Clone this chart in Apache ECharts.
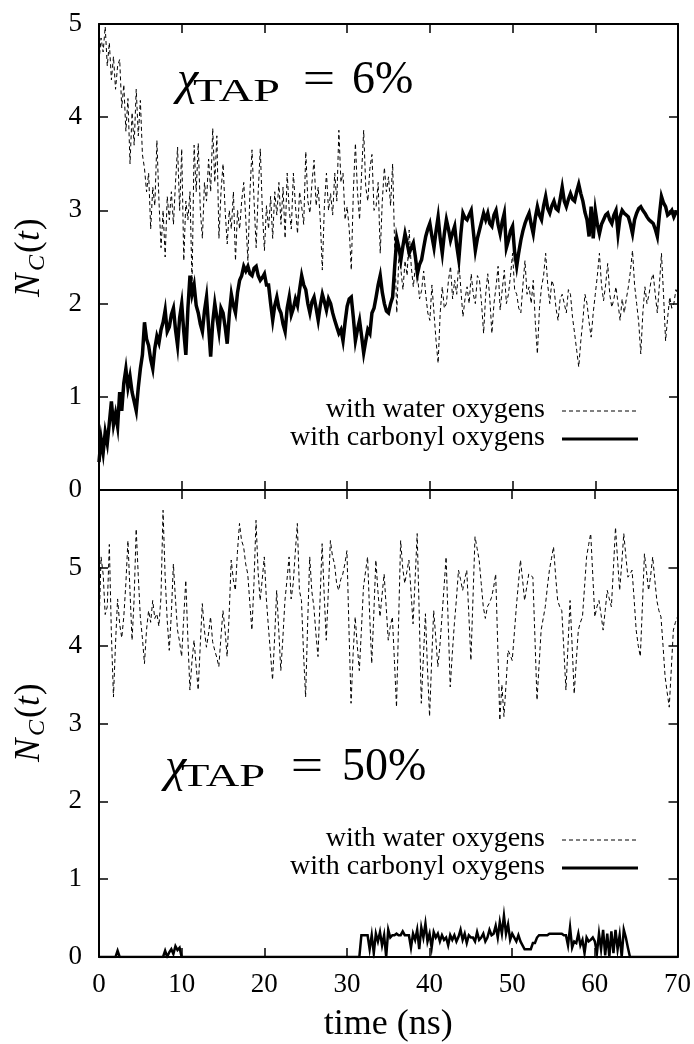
<!DOCTYPE html>
<html>
<head>
<meta charset="utf-8">
<script src="https://cdn.jsdelivr.net/npm/echarts@6/dist/echarts.min.js"></script>
<style>
  html, body { margin: 0; padding: 0; background: #fff; }
  #chart { width: 694px; height: 1044px; }
</style>
</head>
<body>
<div id="chart"></div>
<script>
// Coordination number N_C(t) over simulation time, sampled every 0.25 ns (0 .. 70 ns)
const timeStep = 0.25;
const xTicks = [0, 10, 20, 30, 40, 50, 60, 70];

// chi_TAP = 6 %
const waterTop = [
  4.60,4.85,4.70,4.97,4.55,4.80,4.40,4.65,4.30,4.55,4.62,4.10,4.35,3.85,4.20,3.50,4.05,3.70,4.30,3.80,
  4.18,3.60,3.45,3.20,3.40,2.80,3.25,3.05,3.75,3.10,2.60,3.00,2.50,3.15,2.90,3.20,2.85,3.30,3.68,3.00,
  3.66,2.46,3.10,2.90,3.20,2.20,3.70,3.20,3.72,3.00,2.70,3.30,3.10,3.55,3.20,3.88,3.30,3.80,2.70,3.20,
  3.50,3.00,2.64,3.00,2.80,3.20,2.46,3.00,2.80,3.10,3.30,2.90,2.46,3.20,3.65,3.10,2.60,3.20,3.66,3.00,
  2.57,3.05,2.80,3.15,2.70,3.20,2.95,3.30,2.85,3.25,2.70,3.40,3.00,2.80,3.40,3.05,2.75,3.20,3.04,2.85,
  3.63,3.10,2.97,3.30,3.54,3.05,3.25,2.90,2.36,3.05,3.40,3.00,3.18,2.95,3.40,3.10,3.86,3.30,3.40,2.90,
  3.04,2.80,2.36,3.20,3.72,3.20,2.90,3.40,3.86,3.25,3.10,3.45,3.60,3.00,3.04,3.30,2.54,3.10,3.46,3.20,
  3.36,3.05,3.50,2.60,1.90,2.50,2.36,2.15,2.46,2.30,2.79,2.40,2.18,2.40,2.32,2.05,2.14,2.35,2.10,1.90,
  1.82,2.20,1.90,1.60,1.36,1.90,2.18,1.95,2.00,2.25,2.40,2.05,2.25,2.10,2.46,2.15,1.86,2.05,2.18,2.00,
  2.32,2.10,2.00,2.30,2.25,2.00,1.68,2.10,2.32,2.05,1.68,2.00,2.18,2.40,1.93,2.15,2.36,2.00,2.10,2.30,
  2.54,2.15,2.10,1.95,1.90,2.20,2.46,2.10,2.18,2.00,2.25,1.80,1.46,1.95,2.18,2.30,2.54,2.20,2.00,2.25,
  2.18,1.95,1.82,2.05,2.10,2.00,1.90,2.15,2.10,1.85,1.68,1.50,1.32,1.60,1.82,2.10,2.00,1.80,1.64,1.90,
  2.10,2.30,2.54,2.20,2.03,2.20,2.43,2.10,1.96,2.05,2.18,2.00,1.82,2.05,1.90,2.05,2.18,2.35,2.57,2.20,
  2.00,1.80,1.46,1.90,2.18,2.00,2.10,2.25,2.32,2.10,1.90,2.20,2.54,2.10,1.60,1.85,2.07,1.95,2.00,2.15,
  2.10
];
const carbonylTop = [
  0.30,0.55,0.40,0.62,0.50,0.72,0.95,0.70,0.82,0.68,1.05,0.85,1.15,1.30,1.10,1.22,1.05,0.95,0.85,1.10,
  1.30,1.45,1.80,1.62,1.55,1.40,1.30,1.52,1.65,1.58,1.72,1.80,1.93,1.70,1.75,1.88,1.95,1.72,1.55,1.85,
  2.00,1.70,1.45,1.95,2.30,2.10,2.20,1.98,1.90,1.78,1.70,1.92,2.07,1.75,1.43,1.80,2.00,1.85,1.70,1.95,
  1.90,1.75,1.57,1.88,2.10,1.98,1.90,2.12,2.25,2.30,2.40,2.35,2.40,2.32,2.30,2.38,2.40,2.30,2.25,2.28,
  2.32,2.20,2.20,2.00,1.82,1.98,2.07,1.95,1.90,1.78,1.70,1.95,2.07,1.88,1.95,2.05,1.98,2.15,2.30,2.20,
  2.15,2.00,1.90,2.02,2.07,1.95,1.82,1.98,2.10,2.02,1.93,2.05,2.00,1.90,1.82,1.75,1.68,1.72,1.60,1.80,
  1.97,2.05,2.07,1.85,1.60,1.72,1.82,1.65,1.47,1.60,1.72,1.68,1.90,1.95,2.07,2.20,2.30,2.12,2.00,1.92,
  1.90,2.00,2.07,2.40,2.70,2.60,2.47,2.62,2.75,2.65,2.54,2.60,2.65,2.50,2.32,2.42,2.47,2.60,2.72,2.80,
  2.86,2.72,2.60,2.78,2.93,2.70,2.54,2.75,2.90,2.80,2.68,2.76,2.83,2.62,2.47,2.75,2.97,2.92,2.90,2.95,
  3.00,2.78,2.57,2.70,2.79,2.88,2.97,2.90,2.97,2.86,2.83,2.95,3.00,2.85,2.75,2.88,2.97,2.60,2.68,2.78,
  2.83,2.55,2.40,2.55,2.68,2.78,2.86,2.92,2.97,2.85,2.75,2.92,3.04,2.95,2.90,3.05,3.15,3.02,2.97,3.05,
  3.10,3.02,3.00,3.12,3.25,3.10,3.04,3.12,3.18,3.12,3.10,3.20,3.28,3.18,3.10,2.98,2.90,2.72,3.04,2.70,
  3.00,2.85,2.75,2.85,2.90,2.95,2.97,2.90,2.86,2.95,3.00,2.75,2.93,3.00,2.97,2.95,2.93,2.85,2.75,2.90,
  2.97,3.02,3.04,3.00,2.97,2.93,2.90,2.88,2.86,2.80,2.72,2.95,3.15,3.08,3.04,2.95,2.97,3.00,2.93,2.98,
  2.97
];

// chi_TAP = 50 %
const waterBottom = [
  4.24,5.14,4.92,4.40,4.50,5.30,4.15,3.34,4.03,4.60,4.28,4.10,4.37,4.80,5.35,4.70,4.07,4.60,5.50,4.90,
  4.37,4.10,3.77,4.20,4.45,4.30,4.58,4.35,4.41,4.25,4.63,5.74,4.90,4.33,3.94,4.40,5.05,4.60,4.20,4.05,
  3.86,4.35,4.84,4.10,3.43,3.80,4.07,3.75,3.43,4.00,4.54,4.20,3.98,4.15,4.37,4.05,3.94,3.85,3.73,4.10,
  4.45,4.20,3.86,4.40,5.10,4.85,4.71,5.20,5.57,5.35,5.27,5.05,4.92,4.55,4.20,4.80,5.61,4.95,4.58,4.85,
  5.14,4.60,4.24,3.90,3.56,4.10,4.71,4.20,3.68,4.10,4.58,4.85,5.14,4.60,4.80,5.20,5.57,4.71,4.58,3.90,
  3.34,4.30,5.14,4.70,4.50,4.15,3.86,4.60,5.31,4.65,4.07,4.70,5.35,5.15,5.05,4.80,4.71,4.85,4.92,5.05,
  5.22,4.20,3.26,3.90,4.37,4.00,3.68,4.20,4.75,4.95,5.14,4.40,3.77,4.40,5.10,4.70,4.37,4.65,4.92,4.50,
  4.07,4.25,4.37,3.80,3.21,4.30,5.35,5.00,4.80,4.95,5.10,4.70,4.28,4.85,5.44,4.40,3.26,3.85,4.41,3.70,
  3.09,3.80,4.45,4.10,3.73,4.00,4.37,4.75,5.14,4.30,3.47,3.90,4.28,4.60,4.97,4.85,4.71,4.85,4.97,4.40,
  3.81,4.60,5.40,5.25,5.10,4.80,4.50,4.35,4.50,4.55,4.62,4.75,4.92,4.00,3.04,3.50,3.09,3.50,3.94,3.88,
  3.81,4.15,4.50,4.80,5.10,4.85,4.58,4.75,4.92,4.90,4.88,4.10,3.30,3.75,4.20,4.35,4.50,4.75,4.97,5.12,
  5.27,4.90,4.58,4.50,4.45,3.95,3.43,4.00,4.58,4.00,3.38,3.80,4.20,4.30,4.37,4.75,5.14,5.30,5.44,4.90,
  4.37,4.50,4.58,4.40,4.20,4.45,4.71,4.60,4.50,5.00,5.52,5.10,4.71,5.05,5.44,5.15,4.88,4.92,4.97,4.60,
  4.20,4.00,3.86,4.50,5.18,4.95,4.71,4.90,5.14,4.85,4.58,4.45,4.37,4.00,3.60,3.40,3.21,3.70,4.20,4.30,
  4.37
];
const carbonylBottom = [
  0,0,0,0,0,0,0,0,0,0.08,0,0,0,0,0,0,0,0,0,0,
  0,0,0,0,0,0,0,0,0,0,0,0,0.08,0,0.06,0.10,0.04,0.14,0.09,0.12,
  0,0,0,0,0,0,0,0,0,0,0,0,0,0,0,0,0,0,0,0,
  0,0,0,0,0,0,0,0,0,0,0,0,0,0,0,0,0,0,0,0,
  0,0,0,0,0,0,0,0,0,0,0,0,0,0,0,0,0,0,0,0,
  0,0,0,0,0,0,0,0,0,0,0,0,0,0,0,0,0,0,0,0,
  0,0,0,0,0,0,0,0.28,0.28,0.28,0.28,0.10,0.28,0.05,0.30,0.20,0.32,0.15,0.28,0.00,
  0.35,0.25,0.28,0.28,0.30,0.28,0.28,0.33,0.28,0.28,0.28,0.12,0.30,0.22,0.35,0.10,0.38,0.25,0.43,0.20,
  0.30,0.12,0.32,0.25,0.30,0.20,0.28,0.22,0.25,0.15,0.28,0.22,0.28,0.20,0.26,0.35,0.22,0.30,0.18,0.28,
  0.25,0.25,0.20,0.32,0.22,0.25,0.30,0.20,0.25,0.35,0.28,0.30,0.40,0.25,0.45,0.30,0.53,0.30,0.42,0.22,
  0.30,0.25,0.20,0.28,0.20,0.15,0.10,0.10,0.10,0.10,0.18,0.18,0.25,0.28,0.28,0.28,0.28,0.28,0.30,0.30,
  0.30,0.30,0.30,0.30,0.30,0.28,0.28,0.15,0.38,0.12,0.20,0.18,0.30,0.15,0.22,0.05,0.25,0.20,0.22,0.25,
  0.20,0.05,0.30,0.10,0.35,0.02,0.30,0.00,0.33,0.05,0.35,0.10,0.28,0.00,0.35,0.25,0.12,0.00,0,0,
  0,0,0,0,0,0,0,0,0,0,0,0,0,0,0,0,0,0,0,0,
  0
];

const legendWater = 'with water oxygens';
const legendCarbonyl = 'with carbonyl oxygens';
const panelLabels = ['6%', '50%'];

const times = waterTop.map((_, i) => i * timeStep);
const pairs = arr => arr.map((v, i) => [times[i], v]);

const SERIF = '"Liberation Serif", "Times New Roman", serif';
const INK = '#000';

function xAxisDef(gridIndex, position, showLabels) {
  return {
    type: 'value', gridIndex, position,
    min: xTicks[0], max: xTicks[xTicks.length - 1], interval: 10,
    axisLine: { show: true, onZero: false, lineStyle: { color: INK, width: 2 } },
    axisTick: { show: true, inside: true, length: 9, lineStyle: { color: INK, width: 1.5 } },
    axisLabel: { show: showLabels, color: INK, fontFamily: SERIF, fontSize: 27, margin: 14 },
    splitLine: { show: false },
    name: showLabels ? 'time (ns)' : '',
    nameLocation: 'middle', nameGap: 50,
    nameTextStyle: { color: INK, fontFamily: SERIF, fontSize: 36 }
  };
}
function yAxisDef(gridIndex, position, max, showLabels) {
  return {
    type: 'value', gridIndex, position,
    min: 0, max, interval: 1,
    axisLine: { show: true, onZero: false, lineStyle: { color: INK, width: 2 } },
    axisTick: { show: true, inside: true, length: 9, lineStyle: { color: INK, width: 1.5 } },
    axisLabel: {
      show: showLabels, color: INK, fontFamily: SERIF, fontSize: 27, margin: 17,
      formatter: v => (v > 5 ? '' : String(v))
    },
    splitLine: { show: false }
  };
}

function lineSeries(data, xi, yi, solid) {
  return {
    type: 'line', data: pairs(data), xAxisIndex: xi, yAxisIndex: yi,
    showSymbol: false, symbol: 'none', silent: true, clip: true,
    lineStyle: solid ? { color: INK, width: 3.5, type: 'solid', join: 'miter' }
                     : { color: INK, width: 1, type: [4, 3] }
  };
}

// y-axis title N_C(t), written bottom-to-top
function ncLabel(cy) {
  const part = (text, x, y, font) => ({
    type: 'text', x, y,
    style: { text, font, fill: INK, verticalAlign: 'middle', textVerticalAlign: 'middle' }
  });
  return {
    type: 'group', x: 30, y: cy, rotation: Math.PI / 2,
    children: [
      part('N', -40, 0, 'italic 35px ' + SERIF),
      part('C', -14, 8, 'italic 24px ' + SERIF),
      part('(', 4, 0, '35px ' + SERIF),
      part('t', 16, 0, 'italic 35px ' + SERIF),
      part(')', 27, 0, '35px ' + SERIF)
    ]
  };
}

// panel annotation chi_TAP = ...
function chiLabel(x0, yMain, ySub, tapScale, eqCenter, valueX, valueText) {
  const mid = { fill: INK, verticalAlign: 'middle', textVerticalAlign: 'middle' };
  return [
    { type: 'text', x: x0, y: yMain, style: Object.assign({ text: 'χ', font: 'italic 48px ' + SERIF }, mid) },
    { type: 'text', x: x0 + 16, y: ySub, scaleX: tapScale, style: Object.assign({ text: 'TAP', font: '31px ' + SERIF }, mid) },
    { type: 'text', x: eqCenter, y: yMain, scaleX: 1.25, style: Object.assign({ text: '=', font: '46px ' + SERIF, align: 'center', textAlign: 'center' }, mid) },
    { type: 'text', x: valueX, y: yMain, style: Object.assign({ text: valueText, font: '46px ' + SERIF }, mid) }
  ];
}

function legendBlock(yWater, yCarb) {
  const txt = (text, y) => ({
    type: 'text', x: 545, y,
    style: { text, font: '28px ' + SERIF, fill: INK, align: 'right', textAlign: 'right', verticalAlign: 'middle', textVerticalAlign: 'middle' }
  });
  return [
    txt(legendWater, yWater - 1),
    { type: 'line', shape: { x1: 562, y1: yWater, x2: 638, y2: yWater }, style: { stroke: INK, lineWidth: 1, lineDash: [4, 3] } },
    txt(legendCarbonyl, yCarb - 1),
    { type: 'line', shape: { x1: 562, y1: yCarb, x2: 638, y2: yCarb }, style: { stroke: INK, lineWidth: 3 } }
  ];
}

const option = {
  animation: false,
  backgroundColor: '#fff',
  grid: [
    { left: 99, top: 24, width: 579, height: 466 },
    { left: 99, top: 490, width: 579, height: 467 }
  ],
  xAxis: [
    xAxisDef(0, 'bottom', false),
    xAxisDef(0, 'top', false),
    xAxisDef(1, 'bottom', true),
    xAxisDef(1, 'top', false)
  ],
  yAxis: [
    yAxisDef(0, 'left', 5, true),
    yAxisDef(0, 'right', 5, false),
    yAxisDef(1, 'left', 6, true),
    yAxisDef(1, 'right', 6, false)
  ],
  series: [
    lineSeries(waterTop, 0, 0, false),
    lineSeries(carbonylTop, 0, 0, true),
    lineSeries(waterBottom, 2, 2, false),
    Object.assign(lineSeries(carbonylBottom, 2, 2, true), { lineStyle: { color: INK, width: 2.5, join: 'miter' } })
  ],
  graphic: [
    ncLabel(257),
    ncLabel(722),
    ...chiLabel(177, 81, 93, 1.55, 319, 352, panelLabels[0]),
    ...chiLabel(165, 768, 778, 1.5, 307, 342, panelLabels[1]),
    ...legendBlock(411, 439),
    ...legendBlock(840, 868)
  ]
};

const chart = echarts.init(document.getElementById('chart'), null, { renderer: 'canvas' });
chart.setOption(option);
</script>
</body>
</html>
